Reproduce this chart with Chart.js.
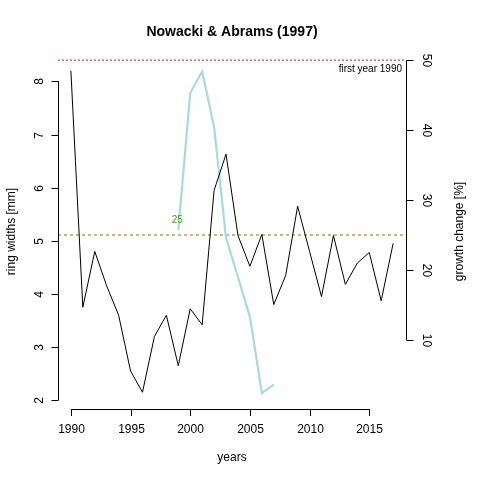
<!DOCTYPE html>
<html>
<head>
<meta charset="utf-8">
<script src="https://cdn.jsdelivr.net/npm/chart.js@4"></script>
<style>body{margin:0;background:#fff}#wrap{width:480px;height:480px}</style>
</head>
<body>
<div id="wrap"><canvas id="c"></canvas></div>
<script>
const years = [1990,1991,1992,1993,1994,1995,1996,1997,1998,1999,2000,2001,2002,2003,2004,2005,2006,2007,2008,2009,2010,2011,2012,2013,2014,2015,2016,2017];
const ringWidths = [8.2,3.75,4.8,4.15,3.6,2.55,2.15,3.2,3.6,2.65,3.72,3.42,5.95,6.63,5.1,4.52,5.12,3.8,4.35,5.65,4.8,3.95,5.1,4.18,4.58,4.78,3.87,4.95];
const growthYears = [1999,2000,2001,2002,2003,2004,2005,2006,2007];
const growthChange = [25.7,45.3,48.4,40.4,24.6,19,13.3,2.4,3.6];
const xTicks = [1990,1995,2000,2005,2010,2015];
const leftTicks = [2,3,4,5,6,7,8];
const rightTicks = [10,20,30,40,50];
const threshold = 25;
const topLine = 50;
const xMin = 1988.92, xMax = 2018.08;

const font = '12px "Liberation Sans", Arial, sans-serif';

const rAxes = {
  id: 'rAxes',
  afterDraw(chart) {
    const ctx = chart.ctx, x = chart.scales.x, yl = chart.scales.y, yr = chart.scales.y2;
    const a = chart.chartArea;
    ctx.save();
    ctx.strokeStyle = '#000'; ctx.fillStyle = '#000'; ctx.lineWidth = 1; ctx.font = font;
    // bottom axis
    const by = a.bottom + 4;
    ctx.beginPath();
    ctx.moveTo(x.getPixelForValue(xTicks[0]), by + 0.5);
    ctx.lineTo(x.getPixelForValue(xTicks[xTicks.length - 1]), by + 0.5);
    ctx.stroke();
    ctx.textAlign = 'center'; ctx.textBaseline = 'top';
    xTicks.forEach(t => {
      const px = Math.round(x.getPixelForValue(t)) + 0.5;
      ctx.beginPath(); ctx.moveTo(px, by); ctx.lineTo(px, by + 7); ctx.stroke();
      ctx.fillText(String(t), px, by + 15);
    });
    // left axis
    const lx = a.left + 0.5;
    ctx.beginPath();
    ctx.moveTo(lx, yl.getPixelForValue(leftTicks[0]));
    ctx.lineTo(lx, yl.getPixelForValue(leftTicks[leftTicks.length - 1]));
    ctx.stroke();
    leftTicks.forEach(t => {
      const py = Math.round(yl.getPixelForValue(t)) + 0.5;
      ctx.beginPath(); ctx.moveTo(lx, py); ctx.lineTo(lx - 7, py); ctx.stroke();
      ctx.save(); ctx.translate(lx - 16, py); ctx.rotate(-Math.PI / 2);
      ctx.textAlign = 'center'; ctx.textBaseline = 'alphabetic';
      ctx.fillText(String(t), 0, 0); ctx.restore();
    });
    // right axis
    const rx = a.right + 0.5;
    ctx.beginPath();
    ctx.moveTo(rx, yr.getPixelForValue(rightTicks[0]));
    ctx.lineTo(rx, yr.getPixelForValue(rightTicks[rightTicks.length - 1]));
    ctx.stroke();
    rightTicks.forEach(t => {
      const py = Math.round(yr.getPixelForValue(t)) + 0.5;
      ctx.beginPath(); ctx.moveTo(rx, py); ctx.lineTo(rx + 7, py); ctx.stroke();
      ctx.save(); ctx.translate(rx + 16, py); ctx.rotate(Math.PI / 2);
      ctx.textAlign = 'center'; ctx.textBaseline = 'alphabetic';
      ctx.fillText(String(t), 0, 0); ctx.restore();
    });
    // titles
    ctx.textAlign = 'center'; ctx.textBaseline = 'middle';
    ctx.font = 'bold 14px "Liberation Sans", Arial, sans-serif';
    ctx.fillText('Nowacki & Abrams (1997)', (a.left + a.right) / 2, 32);
    ctx.font = font;
    ctx.fillText('years', (a.left + a.right) / 2, 458);
    ctx.save(); ctx.translate(12, (a.top + a.bottom) / 2); ctx.rotate(-Math.PI / 2);
    ctx.fillText('ring widths [mm]', 0, 0); ctx.restore();
    ctx.save(); ctx.translate(460, (a.top + a.bottom) / 2); ctx.rotate(-Math.PI / 2);
    ctx.fillText('growth change [%]', 0, 0); ctx.restore();
    // annotations
    ctx.font = '10px "Liberation Sans", Arial, sans-serif';
    ctx.textAlign = 'right';
    ctx.fillText('first year ' + years[0], a.right - 4, yr.getPixelForValue(topLine) + 9);
    ctx.fillStyle = '#4a9a2a'; ctx.textAlign = 'center';
    ctx.fillText(String(threshold), x.getPixelForValue(growthYears[0]) - 1, yr.getPixelForValue(threshold) - 15);
    ctx.restore();
  }
};

new Chart(document.getElementById('c'), {
  type: 'scatter',
  data: {
    datasets: [
      { data: years.map((y, i) => ({ x: y, y: ringWidths[i] })), yAxisID: 'y',
        showLine: true, borderColor: '#000', borderWidth: 1, pointRadius: 0 },
      { data: growthYears.map((y, i) => ({ x: y, y: growthChange[i] })), yAxisID: 'y2',
        showLine: true, borderColor: '#a9d9df', borderWidth: 2.2, pointRadius: 0 },
      { data: [{ x: xMin, y: topLine }, { x: xMax, y: topLine }], yAxisID: 'y2',
        showLine: true, borderColor: '#c8102e', borderWidth: 1, borderDash: [2, 2], pointRadius: 0 },
      { data: [{ x: xMin, y: threshold }, { x: xMax, y: threshold }], yAxisID: 'y2',
        showLine: true, borderColor: '#7a7a10', borderWidth: 1, borderDash: [3, 3], pointRadius: 0 }
    ]
  },
  options: {
    responsive: true, maintainAspectRatio: false, animation: false,
    layout: { padding: { left: 58, right: 74, top: 58, bottom: 75 } },
    plugins: { legend: { display: false }, tooltip: { enabled: false } },
    scales: {
      x: { type: 'linear', min: xMin, max: xMax, display: false },
      y: { min: 1.91, max: 8.44, display: false },
      y2: { min: 0.7, max: 50.3, display: false, position: 'right' }
    }
  },
  plugins: [rAxes]
});
</script>
</body>
</html>
